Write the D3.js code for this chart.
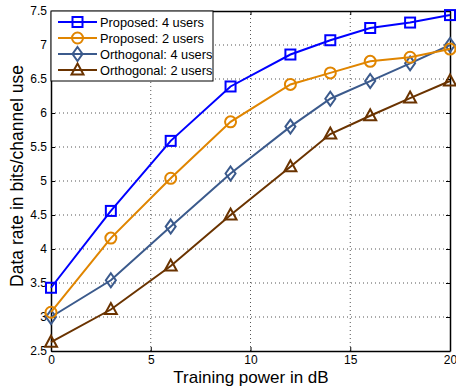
<!DOCTYPE html>
<html>
<head>
<meta charset="utf-8">
<script src="https://cdn.jsdelivr.net/npm/d3@7"></script>
<style>
  html, body { margin: 0; padding: 0; background: #fff; }
  svg { display: block; font-family: "Liberation Sans", Arial, sans-serif; }
</style>
</head>
<body>
<svg id="chart" width="456" height="386"></svg>
<script>
// Training power (dB) on the x axis
const powerDb = [0, 3, 6, 9, 12, 14, 16, 18, 20];

// Data rate in bits/channel use for each scheme
const proposed4 = [3.43, 4.56, 5.59, 6.39, 6.86, 7.07, 7.25, 7.33, 7.44];
const proposed2 = [3.07, 4.16, 5.04, 5.87, 6.42, 6.59, 6.76, 6.82, 6.94];
const orthogonal4 = [3.00, 3.54, 4.33, 5.11, 5.80, 6.21, 6.47, 6.73, 7.00];
const orthogonal2 = [2.63, 3.11, 3.75, 4.50, 5.21, 5.69, 5.96, 6.22, 6.47];

const seriesNames = ["Proposed: 4 users", "Proposed: 2 users", "Orthogonal: 4 users", "Orthogonal: 2 users"];
const seriesColors = ["#0000ff", "#e08500", "#3b5a8c", "#6a3300"];
const seriesMarkers = ["square", "circle", "diamond", "triangle"];

const xTicks = [0, 5, 10, 15, 20];
const yTicks = [2.5, 3, 3.5, 4, 4.5, 5, 5.5, 6, 6.5, 7, 7.5];

const svg = d3.select("#chart");
const margin = { left: 51, right: 6, top: 11, bottom: 35 };
const W = 456, H = 386;
const x = d3.scaleLinear().domain([0, 20]).range([margin.left, W - margin.right]);
const y = d3.scaleLinear().domain([2.5, 7.5]).range([H - margin.bottom, margin.top]);

const series = [proposed4, proposed2, orthogonal4, orthogonal2].map((vals, i) => ({
  name: seriesNames[i], color: seriesColors[i], marker: seriesMarkers[i],
  points: vals.map((v, j) => ({ x: powerDb[j], y: v }))
}));

// dotted grid
const grid = svg.append("g");
grid.selectAll("line.gx").data(xTicks.slice(1, -1)).join("line")
  .attr("x1", d => x(d)).attr("x2", d => x(d))
  .attr("y1", y(2.5)).attr("y2", y(7.5))
  .attr("stroke", "#555").attr("stroke-width", 1).attr("stroke-dasharray", "1,3");
grid.selectAll("line.gy").data(yTicks.slice(1, -1)).join("line")
  .attr("x1", x(0)).attr("x2", x(20))
  .attr("y1", d => y(d)).attr("y2", d => y(d))
  .attr("stroke", "#555").attr("stroke-width", 1).attr("stroke-dasharray", "1,3");

// axes with inward ticks
const fmt = d => String(d);
const axB = svg.append("g").attr("transform", `translate(0,${y(2.5)})`)
  .call(d3.axisBottom(x).tickValues(xTicks).tickFormat(fmt).tickSizeInner(-4).tickSizeOuter(0).tickPadding(4));
const axT = svg.append("g").attr("transform", `translate(0,${y(7.5)})`)
  .call(d3.axisTop(x).tickValues(xTicks).tickFormat("").tickSizeInner(-4).tickSizeOuter(0));
const axL = svg.append("g").attr("transform", `translate(${x(0)},0)`)
  .call(d3.axisLeft(y).tickValues(yTicks).tickFormat(fmt).tickSizeInner(-4).tickSizeOuter(0).tickPadding(4));
const axR = svg.append("g").attr("transform", `translate(${x(20)},0)`)
  .call(d3.axisRight(y).tickValues(yTicks).tickFormat("").tickSizeInner(-4).tickSizeOuter(0));
[axB, axT, axL, axR].forEach(a => {
  a.select(".domain").attr("stroke", "#000").attr("stroke-width", 1.5);
  a.selectAll(".tick line").attr("stroke", "#000");
  a.selectAll("text").attr("font-family", "Liberation Sans, Arial, sans-serif")
    .attr("font-size", 12).attr("fill", "#000");
});

// marker drawing
function drawMarker(g, type, cx, cy, color) {
  const sw = 2;
  if (type === "square") {
    g.append("rect").attr("x", cx - 5).attr("y", cy - 5).attr("width", 10).attr("height", 10)
      .attr("fill", "none").attr("stroke", color).attr("stroke-width", sw);
  } else if (type === "circle") {
    g.append("circle").attr("cx", cx).attr("cy", cy).attr("r", 5.5)
      .attr("fill", "none").attr("stroke", color).attr("stroke-width", sw);
  } else if (type === "diamond") {
    g.append("path").attr("d", `M${cx},${cy - 7}L${cx + 5},${cy}L${cx},${cy + 7}L${cx - 5},${cy}Z`)
      .attr("fill", "none").attr("stroke", color).attr("stroke-width", sw);
  } else {
    g.append("path").attr("d", `M${cx},${cy - 6.5}L${cx + 6},${cy + 4.5}L${cx - 6},${cy + 4.5}Z`)
      .attr("fill", "none").attr("stroke", color).attr("stroke-width", sw);
  }
}

// series lines and markers (drawn in reverse so the first series sits on top)
const line = d3.line().x(d => x(d.x)).y(d => y(d.y));
const plot = svg.append("g");
series.slice().reverse().forEach(s => {
  const g = plot.append("g");
  g.append("path").datum(s.points).attr("d", line)
    .attr("fill", "none").attr("stroke", s.color).attr("stroke-width", 2);
  s.points.forEach(p => drawMarker(g, s.marker, x(p.x), y(p.y), s.color));
});

// axis titles
svg.append("text").attr("x", 251).attr("y", 382.5).attr("text-anchor", "middle")
  .attr("font-size", 17).text("Training power in dB");
svg.append("text").attr("transform", `translate(23,176) rotate(-90)`)
  .attr("text-anchor", "middle").attr("font-size", 17.5).text("Data rate in bits/channel use");

// legend
const leg = svg.append("g");
leg.append("rect").attr("x", 51).attr("y", 11).attr("width", 162).attr("height", 70)
  .attr("fill", "#fff").attr("stroke", "#000").attr("stroke-width", 1);
series.forEach((s, i) => {
  const ly = 22 + i * 16;
  leg.append("line").attr("x1", 58).attr("x2", 97).attr("y1", ly).attr("y2", ly)
    .attr("stroke", s.color).attr("stroke-width", 2);
  drawMarker(leg, s.marker, 77.5, ly, s.color);
  leg.append("text").attr("x", 100).attr("y", ly + 4.5).attr("font-size", 12.8).text(s.name);
});
</script>
</body>
</html>
